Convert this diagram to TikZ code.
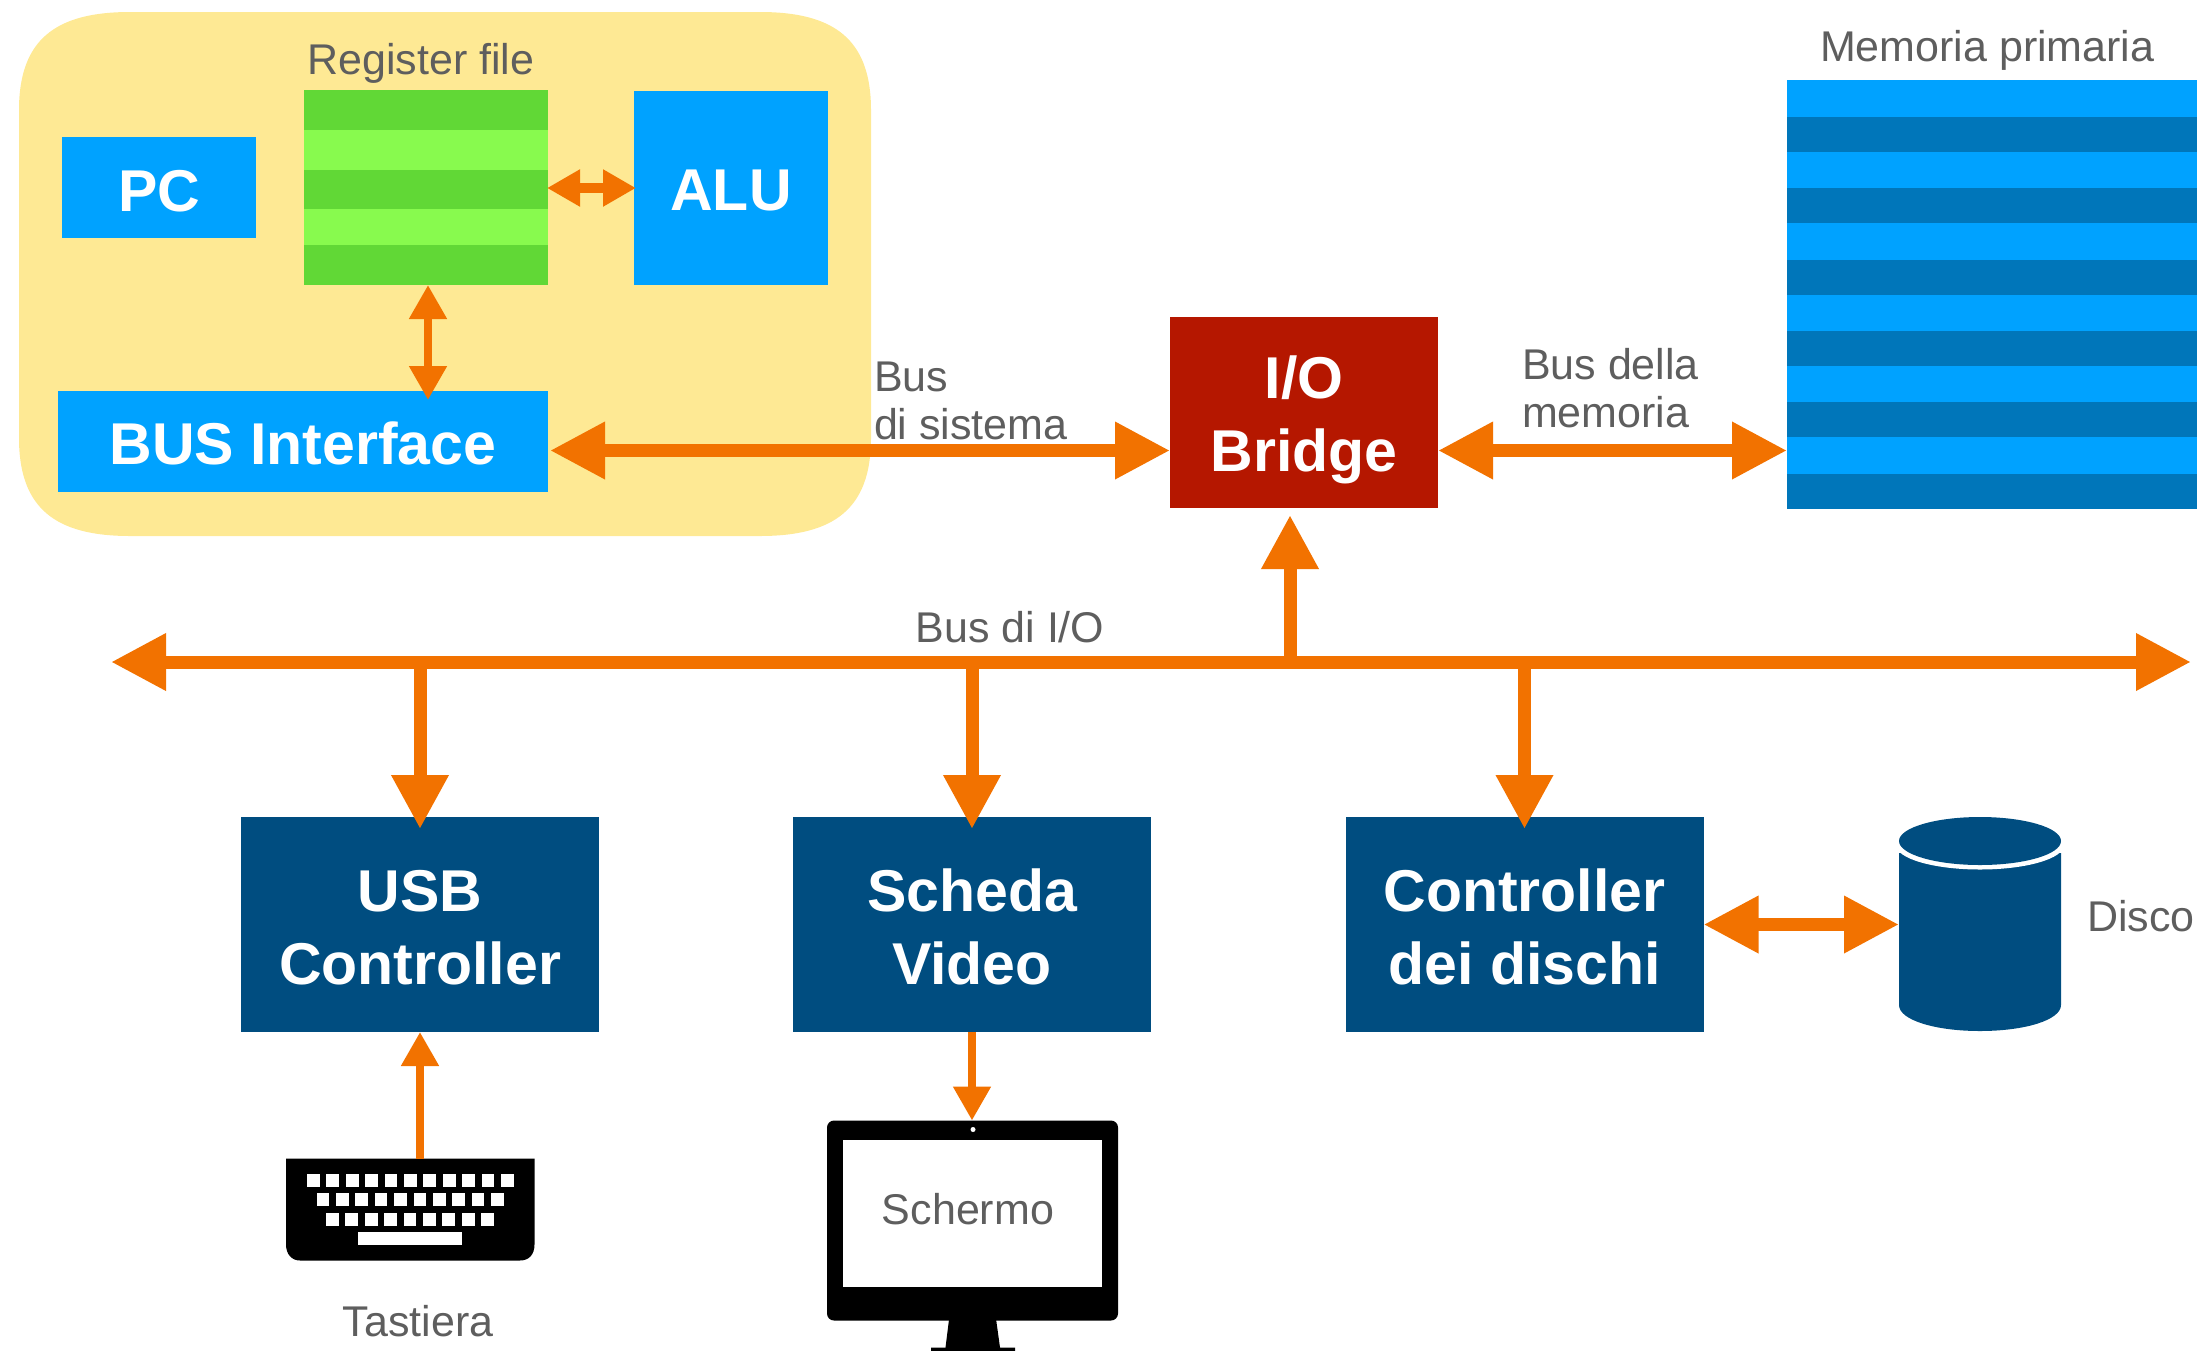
\documentclass[tikz,border=0pt]{standalone}
\usepackage{fontspec}
\setmainfont{Liberation Sans}
\usetikzlibrary{arrows.meta}
\definecolor{cyellow}{HTML}{FEE994}
\definecolor{cblue}{HTML}{00A2FF}
\definecolor{cdblue}{HTML}{0076BA}
\definecolor{cgreen}{HTML}{61D836}
\definecolor{clgreen}{HTML}{88FA4E}
\definecolor{cnavy}{HTML}{004D80}
\definecolor{corange}{HTML}{F27200}
\definecolor{cred}{HTML}{B51700}
\definecolor{cgrey}{HTML}{5E5E5E}
\newcommand{\firstline}[1]{\rule{0pt}{#1pt}}
\tikzset{
  x=1pt,y=-1pt,
  boxbase/.style={inner sep=0pt,outer sep=0pt,text=white,align=center,font=\fontsize{59}{73}\selectfont\bfseries},
  bluebox/.style={inner sep=0pt,outer sep=0pt,text=white,text depth=0pt,font=\fontsize{59}{72}\selectfont\bfseries,fill=cblue},
  navybox/.style={boxbase,fill=cnavy},
  redbox/.style={boxbase,fill=cred},
  plainbox/.style={inner sep=0pt,outer sep=0pt},
  lbl/.style={inner sep=0pt,outer sep=0pt,text=cgrey,align=left,font=\fontsize{43}{48}\selectfont},
  bigarrow/.style={draw=corange,line width=13pt,{Triangle[length=55pt,width=54pt,fill=corange]}-{Triangle[length=55pt,width=54pt,fill=corange]}},
  bigdown/.style={draw=corange,line width=13pt,-{Triangle[length=54pt,width=54pt,fill=corange]}},
  smallarrow/.style={draw=corange,line width=8pt,{Triangle[length=34pt,width=36pt,fill=corange]}-{Triangle[length=34pt,width=36pt,fill=corange]}},
  smallone/.style={draw=corange,line width=8pt,-{Triangle[length=34pt,width=36pt,fill=corange]}},
  midarrow/.style={draw=corange,line width=10pt,{Triangle[length=33pt,width=35pt,fill=corange]}-{Triangle[length=33pt,width=35pt,fill=corange]}}
}
\begin{document}
\begin{tikzpicture}
\useasboundingbox (0,0) rectangle (2208,1350);
% CPU background
\fill[cyellow] (19,110) .. controls (19,40) and (55,12) .. (130,12) -- (760,12)
  .. controls (835,12) and (871,40) .. (871,110) -- (871,438)
  .. controls (871,508) and (835,536) .. (760,536) -- (130,536)
  .. controls (55,536) and (19,508) .. (19,438) -- cycle;
% Register file
\fill[cgreen] (304,90) rectangle (548,285);
\fill[clgreen] (304,130) rectangle (548,170);
\fill[clgreen] (304,209) rectangle (548,245);
\node[plainbox,minimum width=244pt,minimum height=195pt] (regs) at (426,187.5) {};
% Memory
\fill[cblue] (1787,80) rectangle (2197,509);
\foreach \a/\b in {117/152,188/223,260/295,331/366,402/437,474/509}
  \fill[cdblue] (1787,\a) rectangle (2197,\b);
\node[plainbox,minimum width=410pt,minimum height=429pt] (mem) at (1992,294.5) {};
% Boxes
\node[bluebox,text height=47pt,minimum width=194pt,minimum height=101pt] (pc) at (159,187.5) {PC};
\node[bluebox,text height=45pt,minimum width=194pt,minimum height=194pt] (alu) at (731,188) {ALU};
\node[bluebox,text height=45pt,minimum width=490pt,minimum height=101pt] (busif) at (303,441.5) {BUS Interface};
\node[redbox,minimum width=268pt,minimum height=191pt] (bridge) at (1304,412.5) {\firstline{58}I/O\\Bridge};
\node[navybox,minimum width=358pt,minimum height=215pt] (usb) at (420,924.5) {\firstline{47}USB\\Controller};
\node[navybox,minimum width=358pt,minimum height=215pt] (video) at (972,924.5) {\firstline{47}Scheda\\Video};
\node[navybox,minimum width=358pt,minimum height=215pt] (ctrl) at (1524.5,924.5) {\firstline{47}Controller\\dei dischi};
% Disk
\fill[cnavy] (1899,853) -- (2061,853) -- (2061,1005)
  .. controls (2061,1020) and (2025,1031) .. (1980,1031)
  .. controls (1935,1031) and (1899,1020) .. (1899,1005) -- cycle;
\fill[white] (1980,845) ellipse [x radius=84, y radius=24.5];
\fill[cnavy] (1980,841) ellipse [x radius=81, y radius=24];
\node[plainbox,minimum width=162pt,minimum height=215pt] (disk) at (1980,924.5) {};
% Keyboard
\begin{scope}[yshift=-1.5pt]
\fill[black] (286,1157) -- (534.5,1157) -- (534.5,1243) .. controls (534.5,1253) and (529,1259) .. (520,1259)
  -- (300,1259) .. controls (292,1259) and (286,1253) .. (286,1243) -- cycle;
\foreach \i in {0,...,10} \fill[white] ({307+19.4*\i},1172) rectangle ++(12.7,13);
\foreach \i in {0,...,9} \fill[white] ({316.5+19.4*\i},1191) rectangle ++(12.7,13);
\foreach \i in {0,...,8} \fill[white] ({326+19.4*\i},1211) rectangle ++(12.7,13);
\fill[white] (358,1230) rectangle (462,1243);
\node[plainbox,minimum width=248.5pt,minimum height=102pt] (kbd) at (410.25,1208) {};
\end{scope}
% Monitor
\begin{scope}[yshift=-1.5pt]
\fill[black] (950,1310) -- (995,1310) -- (1000,1346) -- (1015,1346) -- (1015,1352) -- (931,1352) -- (931,1346) -- (945.5,1346) -- cycle;
\fill[black,rounded corners=7pt] (827,1119) rectangle (1118,1319);
\fill[white] (843,1138) rectangle (1102,1285);
\fill[white] (973,1128) circle [radius=2.5];
\node[plainbox,minimum width=290pt,minimum height=200pt] (mon) at (972,1219) {};
\end{scope}
% Labels
\node[lbl,anchor=base] (lreg) at (421,74) {Register file};
\node[lbl,anchor=base west] (lmem) at (1820,61) {Memoria primaria};
\node[lbl,anchor=base west] (lsys1) at (874,391) {Bus};
\node[lbl,anchor=base west] (lsys2) at (874,439) {di sistema};
\node[lbl,anchor=base west] (lbm1) at (1522,379) {Bus della};
\node[lbl,anchor=base west] (lbm2) at (1522,427) {memoria};
\node[lbl,anchor=base] (lio) at (1010,642) {Bus di I/O};
\node[lbl,anchor=base west] (ldisk) at (2087,931) {Disco};
\node[lbl,anchor=base] (lkbd) at (418,1336) {Tastiera};
\node[lbl,anchor=base] (lscr) at (968,1224) {Schermo};
% Helper coordinates
\coordinate (ysys) at (0,450.5);
\coordinate (yio) at (0,662);
\coordinate (xup) at (1290,0);
\coordinate (xkbd) at (420,0);
\coordinate (xreg) at (428,0);
\coordinate (ioL) at (111,662);
\coordinate (ioR) at (2191,662);
% Connectors
\draw[midarrow,shorten <=-1pt,shorten >=-2pt] (regs.east |- alu.center) -- (alu.west |- alu.center);
\draw[smallarrow,shorten >=-9pt] (xreg |- regs.south) -- (xreg |- busif.north);
\draw[bigarrow,shorten <=2pt] (busif.east |- ysys) -- (bridge.west |- ysys);
\draw[bigarrow] (bridge.east |- ysys) -- (mem.west |- ysys);
\draw[bigarrow] (ioL) -- (ioR);
\draw[bigdown,shorten >=7pt] (xup |- yio) -- (xup |- bridge.south);
\draw[bigdown,shorten >=-12pt] (usb.north |- yio) -- (usb.north);
\draw[bigdown,shorten >=-12pt] (video.north |- yio) -- (video.north);
\draw[bigdown,shorten >=-12pt] (ctrl.north |- yio) -- (ctrl.north);
\draw[bigarrow] (ctrl.east) -- (disk.west);
\draw[smallone] (xkbd |- kbd.north) -- (usb.south);
\draw[smallone] (video.south) -- (mon.north);
\end{tikzpicture}
\end{document}
